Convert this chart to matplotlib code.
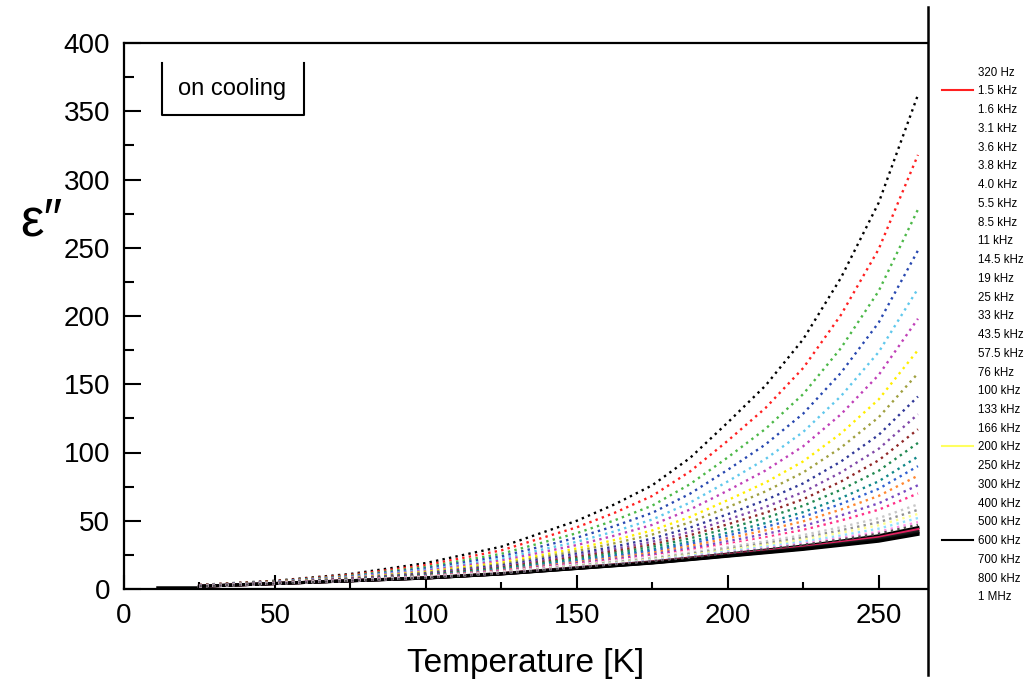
import matplotlib
matplotlib.use("Agg")
import matplotlib.pyplot as plt
from matplotlib.lines import Line2D
from matplotlib.ticker import MultipleLocator

plt.rcParams['font.family'] = ['Liberation Sans', 'DejaVu Sans']

temps = [25, 50, 75, 100, 125, 150, 162.5, 175, 187.5, 200, 212.5, 225, 237.5, 250, 263]

eps = [
    [3.0, 6.0, 11.0, 19.0, 31.0, 50.0, 62.0, 76.0, 96.0, 122.0, 149.0, 183.0, 228.0, 283.0, 362.0],
    [2.9, 5.7, 10.3, 17.5, 28.3, 45.2, 55.8, 68.2, 86.1, 108.6, 132.6, 161.9, 200.8, 249.0, 318.0],
    [2.7, 5.5, 9.7, 16.1, 25.8, 40.9, 50.3, 61.1, 76.8, 96.4, 117.3, 142.8, 176.5, 218.3, 278.0],
    [2.6, 5.3, 9.2, 15.1, 23.9, 37.6, 46.1, 55.8, 69.8, 87.3, 105.9, 128.5, 158.4, 195.2, 248.0],
    [2.6, 5.1, 8.8, 14.1, 22.2, 34.6, 42.2, 50.9, 63.3, 78.8, 95.2, 115.1, 141.3, 173.6, 220.0],
    [2.5, 5.0, 8.5, 13.4, 20.8, 32.2, 39.1, 47.0, 58.2, 72.1, 86.8, 104.6, 128.0, 156.8, 198.0],
    [2.4, 4.8, 8.1, 12.6, 19.4, 29.7, 35.9, 42.9, 52.8, 65.1, 78.0, 93.5, 114.0, 138.9, 175.0],
    [2.4, 4.7, 7.8, 12.0, 18.3, 27.8, 33.5, 39.9, 48.9, 59.9, 71.5, 85.4, 103.6, 125.8, 158.0],
    [2.3, 4.6, 7.6, 11.5, 17.3, 26.0, 31.1, 36.9, 45.0, 54.8, 65.1, 77.4, 93.4, 112.9, 141.0],
    [2.3, 4.5, 7.4, 11.0, 16.5, 24.6, 29.3, 34.6, 41.9, 50.8, 60.1, 71.0, 85.4, 102.7, 128.0],
    [2.2, 4.5, 7.2, 10.6, 15.8, 23.4, 27.8, 32.6, 39.4, 47.4, 55.9, 65.8, 78.7, 94.3, 117.0],
    [2.2, 4.4, 7.0, 10.3, 15.2, 22.3, 26.4, 30.9, 37.1, 44.4, 52.1, 61.0, 72.7, 86.6, 107.0],
    [2.2, 4.4, 6.9, 9.9, 14.5, 21.2, 25.0, 29.1, 34.7, 41.3, 48.3, 56.3, 66.6, 78.9, 97.0],
    [2.2, 4.3, 6.8, 9.7, 14.1, 20.4, 24.0, 27.8, 33.1, 39.2, 45.5, 52.9, 62.3, 73.4, 90.0],
    [2.1, 4.3, 6.7, 9.5, 13.7, 19.7, 23.0, 26.6, 31.5, 37.1, 43.0, 49.6, 58.2, 68.2, 83.0],
    [2.1, 4.2, 6.6, 9.2, 13.2, 18.9, 22.0, 25.4, 29.9, 35.0, 40.3, 46.2, 53.9, 62.8, 76.0],
    [2.1, 4.2, 6.5, 9.0, 12.9, 18.3, 21.2, 24.3, 28.5, 33.1, 37.9, 43.3, 50.2, 58.1, 70.0],
    [2.1, 4.2, 6.4, 8.9, 12.6, 17.8, 20.6, 23.6, 27.6, 31.9, 36.5, 41.5, 47.8, 55.1, 66.0],
    [2.1, 4.1, 6.3, 8.7, 12.4, 17.4, 20.1, 22.9, 26.6, 30.7, 34.9, 39.5, 45.3, 51.9, 62.0],
    [2.1, 4.1, 6.3, 8.6, 12.1, 17.0, 19.5, 22.2, 25.7, 29.5, 33.4, 37.6, 43.0, 48.9, 58.0],
    [2.0, 4.1, 6.2, 8.5, 11.9, 16.6, 19.1, 21.7, 25.0, 28.6, 32.3, 36.2, 41.2, 46.7, 55.0],
    [2.0, 4.1, 6.2, 8.4, 11.7, 16.3, 18.7, 21.1, 24.3, 27.6, 31.0, 34.7, 39.2, 44.2, 52.0],
    [2.0, 4.1, 6.1, 8.3, 11.6, 16.0, 18.3, 20.6, 23.6, 26.7, 29.9, 33.3, 37.5, 41.9, 49.0],
    [2.0, 4.0, 6.1, 8.2, 11.4, 15.8, 18.0, 20.3, 23.1, 26.2, 29.2, 32.4, 36.3, 40.5, 47.0],
    [2.0, 4.0, 6.1, 8.2, 11.3, 15.6, 17.7, 19.9, 22.7, 25.6, 28.5, 31.5, 35.1, 39.0, 45.0],
    [2.0, 4.0, 6.1, 8.1, 11.2, 15.4, 17.5, 19.6, 22.3, 25.1, 27.9, 30.7, 34.2, 37.7, 43.5],
    [2.0, 4.0, 6.0, 8.1, 11.1, 15.2, 17.3, 19.3, 21.9, 24.6, 27.2, 29.9, 33.2, 36.5, 42.0],
    [2.0, 4.0, 6.0, 8.0, 11.1, 15.1, 17.1, 19.2, 21.7, 24.3, 26.9, 29.5, 32.6, 35.7, 41.0],
    [2.0, 4.0, 6.0, 8.0, 11.0, 15.0, 17.0, 19.0, 21.5, 24.0, 26.5, 29.0, 32.0, 35.0, 40.0],
]

start_temps = [11, 24]
start_eps = [1.5, 1.5]

freq_labels = ["320 Hz", "1.5 kHz", "1.6 kHz", "3.1 kHz", "3.6 kHz", "3.8 kHz",
               "4.0 kHz", "5.5 kHz", "8.5 kHz", "11 kHz", "14.5 kHz", "19 kHz",
               "25 kHz", "33 kHz", "43.5 kHz", "57.5 kHz", "76 kHz", "100 kHz",
               "133 kHz", "166 kHz", "200 kHz", "250 kHz", "300 kHz", "400 kHz",
               "500 kHz", "600 kHz", "700 kHz", "800 kHz", "1 MHz"]

colors = ["#000000", "#ff2020", "#4cb848", "#2848b0", "#60c8ec", "#c040b8",
          "#ffee00", "#a0a040", "#303898", "#8048a8", "#902828", "#208850",
          "#108888", "#3060d0", "#ff8830", "#7848c0", "#ff3088", "#ffffff",
          "#c8c8c8", "#909090", "#ffff90", "#90e0ff", "#ff90e8", "#505050",
          "#000000", "#e02060", "#202020", "#101010", "#000000"]

fig = plt.figure(figsize=(10.34, 6.8), dpi=100)
ax = fig.add_axes([124/1034, 1-589/680, (927-124)/1034, (589-43)/680])

for i, (vals, c) in enumerate(zip(eps, colors)):
    if i >= 24:
        ax.plot(temps, vals, color=c, lw=2.2, ls='-', zorder=2)
    else:
        ax.plot(temps, vals, color=c, lw=1.7, ls=(0, (1.0, 1.8)), zorder=3)
ax.plot(start_temps, start_eps, color='black', lw=1.8)

ax.set_xlim(0, 266)
ax.set_ylim(0, 400)
ax.xaxis.set_major_locator(MultipleLocator(50))
ax.xaxis.set_minor_locator(MultipleLocator(25))
ax.yaxis.set_major_locator(MultipleLocator(50))
ax.yaxis.set_minor_locator(MultipleLocator(25))
ax.tick_params(which='major', direction='in', length=12, width=1.5,
               labelsize=20, pad=10, top=False, right=False)
ax.tick_params(which='minor', direction='in', length=7, width=1.5,
               top=False, right=False)
ax.tick_params(axis='x', which='major', length=10)
ax.tick_params(axis='x', which='minor', length=5)
for s in ax.spines.values():
    s.set_linewidth(1.6)
ax.spines['right'].set_visible(False)

ax.set_xlabel("Temperature [K]", fontsize=24, labelpad=14)
fig.text(20/1034, 1-222/680, "\u03b5\u2033", fontsize=38, ha='left', va='center')

# "on cooling" box: three sides
ax.text(232/1034, 1-89/680, "on cooling", transform=fig.transFigure,
        fontsize=17, ha='center', va='center')
box_x = [162/1034, 162/1034, 304/1034, 304/1034]
box_y = [1-63/680, 1-115/680, 1-115/680, 1-63/680]
fig.add_artist(Line2D(box_x, box_y, color='black', lw=1.5,
                      transform=fig.transFigure))

# figure-level vertical separator
fig.add_artist(Line2D([928/1034, 928/1034], [1-7/680, 1-675/680],
                      color='black', lw=1.8, transform=fig.transFigure))

# legend outside on the right
shown = {1: "#ff2020", 20: "#ffff60", 25: "#000000"}
handles = []
for i, lab in enumerate(freq_labels):
    if i in shown:
        handles.append(Line2D([], [], color=shown[i], lw=1.5, label=lab))
    else:
        handles.append(Line2D([], [], color='none', lw=1.5, label=lab))
leg = fig.legend(handles=handles, loc='upper left',
                 bbox_to_anchor=(937/1034, 1-62/680), frameon=False,
                 fontsize=8.3, handlelength=2.7, handletextpad=0.5,
                 labelspacing=0.585, borderaxespad=0)

fig.savefig("out.png", dpi=100)
